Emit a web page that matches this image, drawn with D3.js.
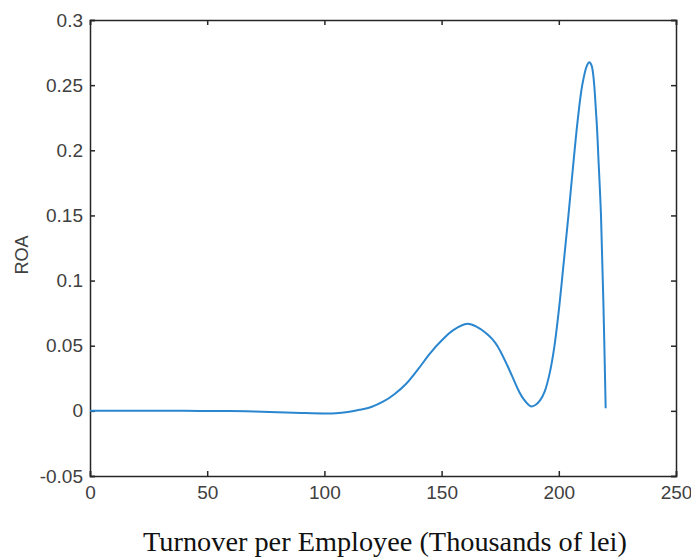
<!DOCTYPE html>
<html>
<head>
<meta charset="utf-8">
<script src="https://cdn.jsdelivr.net/npm/d3@7"></script>
<style>
  body { margin: 0; background: #fff; }
  .tick text { font-family: Arial, "Liberation Sans", sans-serif; }
</style>
</head>
<body>
<script>
var width = 691;
var height = 560;

// chart data
var turnover = [0, 20, 40, 60, 70, 80, 90, 100, 105, 110, 115, 120, 125, 130, 135,
  140, 145, 150, 155, 161, 165, 170, 173, 175, 178, 180, 183, 185, 188, 190, 192,
  194, 196, 198, 200, 202, 204, 206, 208, 210, 212, 213, 214, 216, 217, 218, 219, 220];
var roa = [0, 0, 0, -0.0002, -0.0005, -0.001, -0.0016, -0.002, -0.0018, -0.0008,
  0.0008, 0.003, 0.007, 0.013, 0.021, 0.032, 0.044, 0.054, 0.062, 0.0668,
  0.0645, 0.058, 0.052, 0.046, 0.035, 0.027, 0.015, 0.009, 0.0035, 0.0045, 0.008,
  0.015, 0.028, 0.048, 0.077, 0.112, 0.148, 0.186, 0.222, 0.25, 0.265, 0.2675,
  0.265, 0.226, 0.19, 0.15, 0.085, 0.002];
var xTicks = [0, 50, 100, 150, 200, 250];
var yTicks = [-0.05, 0, 0.05, 0.1, 0.15, 0.2, 0.25, 0.3];

var margin = { top: 20, right: 15, bottom: 84, left: 90 };
var w = width - margin.left - margin.right;
var h = height - margin.top - margin.bottom;

var svg = d3.select('body')
  .append('svg')
  .attr('width', width)
  .attr('height', height);

var g = svg.append('g')
  .attr('transform', 'translate(' + margin.left + ',' + margin.top + ')');

var x = d3.scaleLinear().domain([0, 250]).range([0, w]);
var y = d3.scaleLinear().domain([-0.05, 0.3]).range([h, 0]);

function fmt(d) { return String(+d.toFixed(2)); }

// axes, ticks pointing inward like matlab
var xAxis = g.append('g')
  .attr('transform', 'translate(0,' + h + ')')
  .call(d3.axisBottom(x).tickValues(xTicks).tickSize(-5).tickPadding(10).tickFormat(fmt));
var yAxis = g.append('g')
  .call(d3.axisLeft(y).tickValues(yTicks).tickSize(-5).tickPadding(7).tickFormat(fmt));
var xTop = g.append('g')
  .call(d3.axisTop(x).tickValues(xTicks).tickSize(-5).tickFormat(''));
var yRight = g.append('g')
  .attr('transform', 'translate(' + w + ',0)')
  .call(d3.axisRight(y).tickValues(yTicks).tickSize(-5).tickFormat(''));

[xAxis, yAxis, xTop, yRight].forEach(function(a) {
  a.select('.domain').attr('stroke', '#262626').attr('stroke-width', 1.5);
  a.selectAll('.tick line').attr('stroke', '#262626').attr('stroke-width', 1.5);
  a.selectAll('.tick text').attr('fill', '#404040').attr('font-size', 19);
});

var line = d3.line()
  .x(function(d, i) { return x(turnover[i]); })
  .y(function(d) { return y(d); })
  .curve(d3.curveCatmullRom.alpha(0.5));

g.append('path')
  .datum(roa)
  .attr('d', line)
  .attr('fill', 'none')
  .attr('stroke', '#2a86cf')
  .attr('stroke-width', 2);

// axis labels
svg.append('text')
  .attr('transform', 'translate(28,' + (margin.top + h / 2 + 7) + ') rotate(-90)')
  .attr('text-anchor', 'middle')
  .attr('font-family', 'Arial, "Liberation Sans", sans-serif')
  .attr('font-size', 18)
  .attr('fill', '#404040')
  .text('ROA');

svg.append('text')
  .attr('x', 385)
  .attr('y', 551)
  .attr('text-anchor', 'middle')
  .attr('font-family', '"Times New Roman", "Liberation Serif", serif')
  .attr('font-size', 28.3)
  .attr('fill', '#111')
  .text('Turnover per Employee (Thousands of lei)');
</script>
</body>
</html>
